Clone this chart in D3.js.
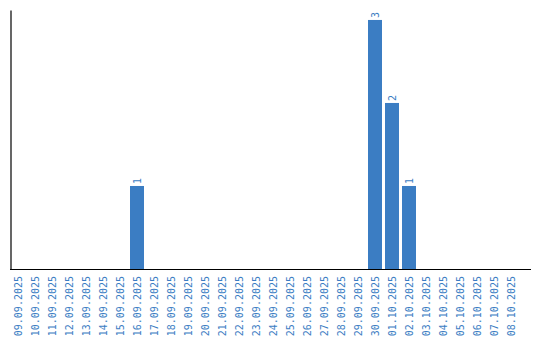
<!DOCTYPE html>
<html>
<head>
<meta charset="utf-8">
<script src="https://cdn.jsdelivr.net/npm/d3@7"></script>
<style>
  body { margin: 0; background: #fff; }
  svg { display: block; }
</style>
</head>
<body>
<svg></svg>
<script>
'use strict';
// dates and counts
var dates = ['09.09.2025', '10.09.2025', '11.09.2025', '12.09.2025', '13.09.2025',
  '14.09.2025', '15.09.2025', '16.09.2025', '17.09.2025', '18.09.2025',
  '19.09.2025', '20.09.2025', '21.09.2025', '22.09.2025', '23.09.2025',
  '24.09.2025', '25.09.2025', '26.09.2025', '27.09.2025', '28.09.2025',
  '29.09.2025', '30.09.2025', '01.10.2025', '02.10.2025', '03.10.2025',
  '04.10.2025', '05.10.2025', '06.10.2025', '07.10.2025', '08.10.2025'];
var counts = [0, 0, 0, 0, 0, 0, 0, 1, 0, 0,
  0, 0, 0, 0, 0, 0, 0, 0, 0, 0,
  0, 3, 2, 1, 0, 0, 0, 0, 0, 0];

var canvasWidth = 540;
var canvasHeight = 340;
var blue = '#3b7dc3';
var font = 'DejaVu Sans Mono, monospace';

var svg = d3.select('svg')
  .attr('width', canvasWidth)
  .attr('height', canvasHeight);

var data = dates.map(function(d, i) { return {date: d, value: counts[i]}; });

var xScale = d3.scaleBand()
  .domain(dates)
  .range([11, 518])
  .paddingInner(3 / 17)
  .paddingOuter(0);

var yScale = d3.scaleLinear()
  .domain([0, 3.12])
  .range([269, 10]);

// bars
svg.append('g')
  .selectAll('rect')
  .data(data.filter(function(d) { return d.value > 0; }))
  .enter()
  .append('rect')
    .attr('x', function(d) { return xScale(d.date); })
    .attr('y', function(d) { return yScale(d.value); })
    .attr('width', xScale.bandwidth())
    .attr('height', function(d) { return yScale(0) - yScale(d.value); })
    .attr('fill', blue);

// value labels, rotated
svg.append('g')
  .selectAll('text')
  .data(data.filter(function(d) { return d.value > 0; }))
  .enter()
  .append('text')
    .attr('transform', function(d) {
      var x = xScale(d.date) + xScale.bandwidth() / 2;
      var y = yScale(d.value) - 2;
      return 'translate(' + x + ',' + y + ') rotate(-90)';
    })
    .attr('dy', '0.35em')
    .style('font-family', font)
    .style('font-size', '10px')
    .style('fill', blue)
    .text(function(d) { return d.value; });

// x axis
var xAxis = svg.append('g')
  .attr('transform', 'translate(0,269)')
  .call(d3.axisBottom(xScale).tickSize(0).tickSizeOuter(0));
xAxis.select('.domain').remove();
xAxis.selectAll('text')
  .attr('transform', 'rotate(-90)')
  .attr('x', -7)
  .attr('y', 0)
  .attr('dy', '0.35em')
  .style('text-anchor', 'end')
  .style('font-family', font)
  .style('font-size', '10px')
  .style('fill', blue);

// axis lines
svg.append('line')
  .attr('x1', 10).attr('x2', 531)
  .attr('y1', 269.5).attr('y2', 269.5)
  .attr('stroke', '#000')
  .attr('stroke-width', 1.2);

var yAxis = svg.append('g')
  .attr('transform', 'translate(10.5,0)')
  .call(d3.axisLeft(yScale).ticks(0).tickSizeOuter(0));
yAxis.select('.domain').attr('stroke-width', 1.2);
</script>
</body>
</html>
